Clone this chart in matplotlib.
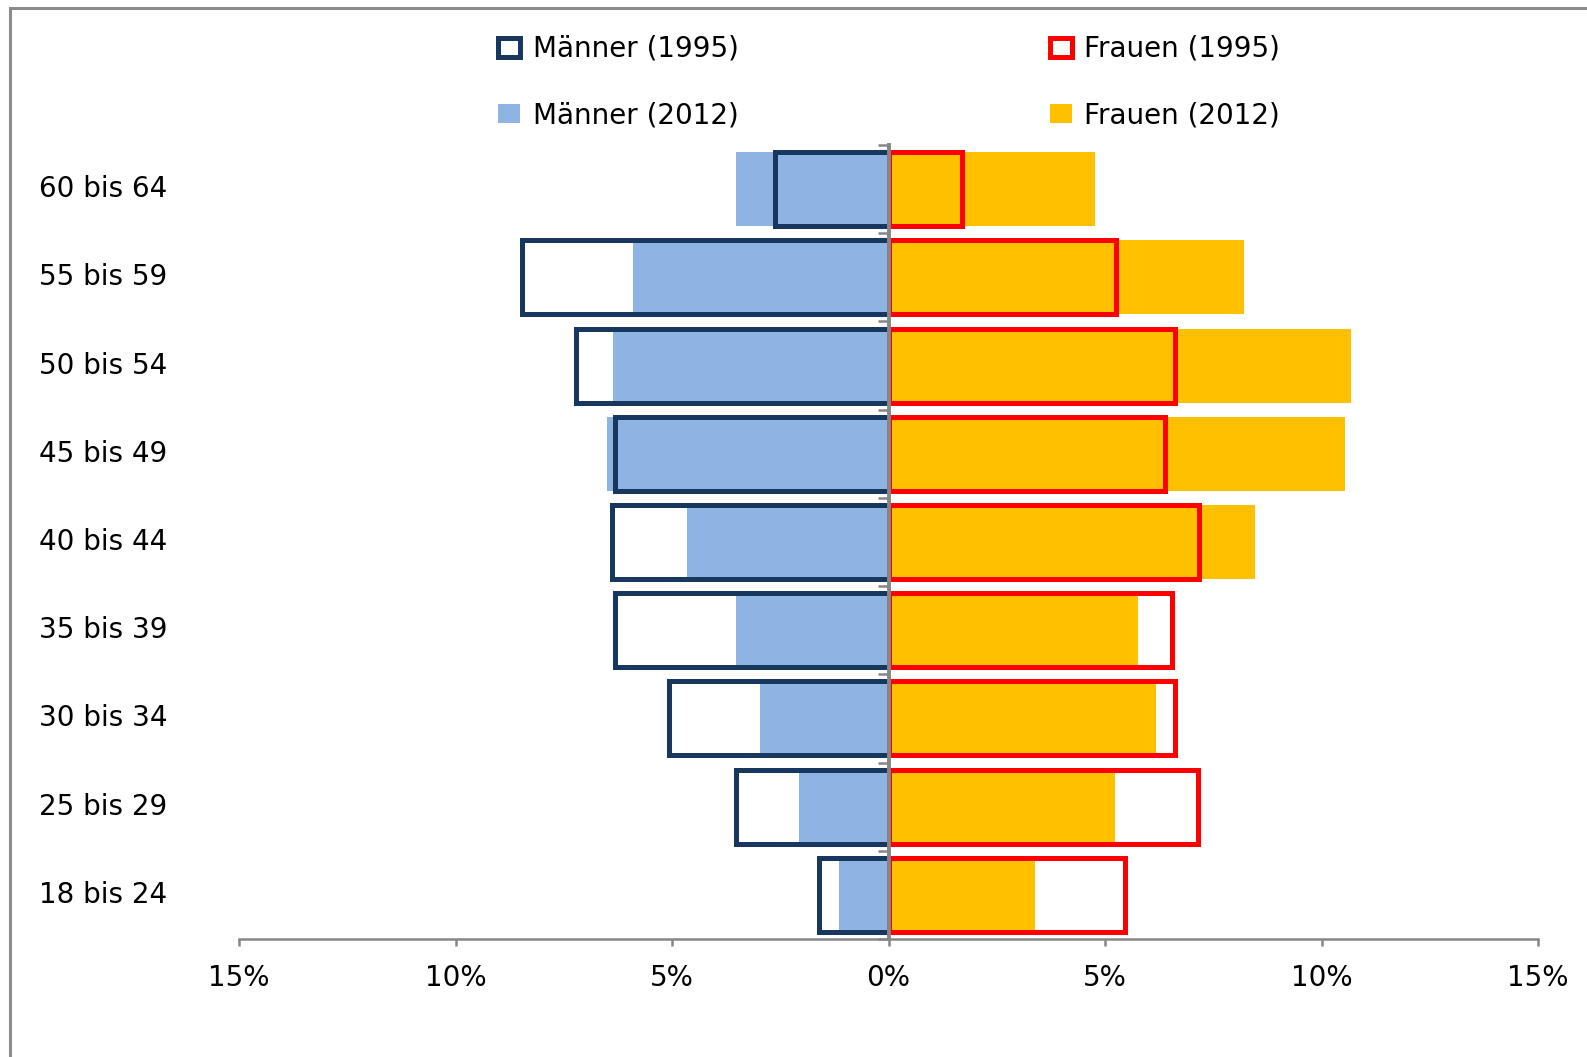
import matplotlib.pyplot as plt
import matplotlib.transforms as mtransforms
from matplotlib.patches import Rectangle
from matplotlib.ticker import FuncFormatter

# Altersgruppen von unten nach oben
groups = ["18 bis 24", "25 bis 29", "30 bis 34", "35 bis 39", "40 bis 44",
          "45 bis 49", "50 bis 54", "55 bis 59", "60 bis 64"]

# Anteile in Prozent
maenner_1995 = [1.61, 3.53, 5.07, 6.31, 6.38, 6.31, 7.22, 8.46, 2.62]
maenner_2012 = [1.14, 2.06, 2.97, 3.53, 4.65, 6.50, 6.36, 5.89, 3.53]
frauen_1995 = [5.47, 7.15, 6.61, 6.54, 7.17, 6.38, 6.61, 5.26, 1.70]
frauen_2012 = [3.39, 5.23, 6.17, 5.77, 8.46, 10.54, 10.68, 8.22, 4.77]

x_ticks = [-15, -10, -5, 0, 5, 10, 15]


def main():
    plt.rcParams['font.family'] = ['DejaVu Sans']
    fig = plt.figure(figsize=(15.87, 10.57), dpi=100)
    ax = fig.add_axes([239 / 1587, 118 / 1057, 1299 / 1587, 794 / 1057])

    y = list(range(len(groups)))
    h = 0.84
    grey = '#868686'
    fs = 20

    # gefuellte Balken fuer 2012
    m12 = ax.barh(y, [-v for v in maenner_2012], height=h, color='#8EB4E3',
                  label='Männer (2012)', zorder=2)
    f12 = ax.barh(y, frauen_2012, height=h, color='#FFC000',
                  label='Frauen (2012)', zorder=2)
    # Umrisse fuer 1995
    m95 = ax.barh(y, [-v for v in maenner_1995], height=h, facecolor='none',
                  edgecolor='#17375E', linewidth=3.6, label='Männer (1995)',
                  zorder=3)
    f95 = ax.barh(y, frauen_1995, height=h, facecolor='none',
                  edgecolor='#FF0000', linewidth=3.6, label='Frauen (1995)',
                  zorder=3)

    ax.set_xlim(-15, 15)
    ax.set_ylim(-0.5, len(groups) - 0.5)

    # Achsen
    for s in ['top', 'right']:
        ax.spines[s].set_visible(False)
    ax.spines['left'].set_position(('data', 0))
    ax.spines['left'].set_color(grey)
    ax.spines['left'].set_linewidth(2.8)
    ax.spines['left'].set_zorder(5)
    ax.spines['bottom'].set_color(grey)
    ax.spines['bottom'].set_linewidth(1.8)

    ax.set_yticks([i - 0.5 for i in range(len(groups) + 1)])
    ax.tick_params(axis='y', direction='out', length=8, width=1.8,
                   color=grey, labelleft=False)
    ax.set_xticks(x_ticks)
    ax.xaxis.set_major_formatter(FuncFormatter(lambda v, p: '%d%%' % abs(v)))
    ax.tick_params(axis='x', direction='out', length=5, width=1.8,
                   color=grey, labelsize=fs, pad=13)

    # Beschriftung der Altersgruppen links
    trans = mtransforms.blended_transform_factory(fig.transFigure, ax.transData)
    for i, g in enumerate(groups):
        ax.text(39 / 1587, i, g, transform=trans, ha='left', va='center',
                fontsize=fs)

    fig.legend(handles=[m95, m12, f95, f12], ncol=2, loc='upper left',
               bbox_to_anchor=(498 / 1587, 1 - 35 / 1057), frameon=False,
               fontsize=fs, handlelength=0.8, handleheight=0.65,
               handletextpad=0.45, columnspacing=11.2, labelspacing=1.38,
               borderpad=0, borderaxespad=0)

    # Rahmen um die Grafik
    fig.patches.append(Rectangle((10 / 1587, -0.1), 1.2, 1.1 - 8 / 1057,
                                 transform=fig.transFigure, fill=False,
                                 edgecolor='#8C8C8C', linewidth=2.2))

    fig.savefig('out.png', dpi=100)


if __name__ == "__main__":
    main()
